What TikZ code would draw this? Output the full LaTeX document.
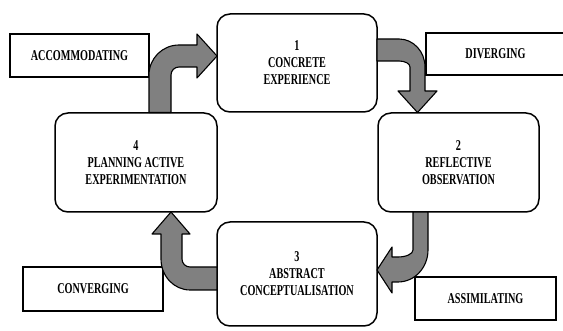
\documentclass[tikz,border=0pt]{standalone}
\usepackage{fontspec}
\setmainfont{Liberation Serif}[FakeStretch=0.68]
\begin{document}
\begin{tikzpicture}[x=1pt,y=-1pt,
  stage/.style={draw=black,line width=1.5pt,rounded corners=13pt,fill=white,
    minimum width=160pt,minimum height=98pt,inner sep=0pt,align=center,
    font=\bfseries\fontsize{15}{17}\selectfont},
  tag/.style={draw=black,line width=1.5pt,fill=white,inner sep=0pt,
    font=\bfseries\fontsize{15}{17}\selectfont},
  blockarrow/.style={draw=black,line width=1.1pt,fill=gray,line join=round}]
\useasboundingbox (0,0) rectangle (563,331);
\begin{scope}
\clip (0,0) rectangle (563,331);
% label boxes
\node[tag,minimum width=139pt,minimum height=43pt] (acc) at (79.5,55.5) {ACCOMMODATING};
\node[tag,minimum width=139pt,minimum height=42pt] (div) at (495.5,54) {DIVERGING};
\node[tag,minimum width=140pt,minimum height=44pt] (con) at (93,289) {CONVERGING};
\node[tag,minimum width=141pt,minimum height=43pt] (ass) at (485.5,298.5) {ASSIMILATING};
% stage boxes
\node[stage] (s1) at (297,63) {1\\CONCRETE\\EXPERIENCE};
\node[stage,minimum width=161pt,minimum height=99pt] (s2) at (458.5,162.5) {2\\REFLECTIVE\\OBSERVATION};
\node[stage,minimum height=104pt] (s3) at (297,274) {3\\ABSTRACT\\CONCEPTUALISATION};
\node[stage,minimum width=162pt,minimum height=99pt] (s4) at (136,162.5) {4\\PLANNING ACTIVE\\EXPERIMENTATION};
% arrow 4 -> 1
\draw[blockarrow] (149,112.5) -- (149,75) arc[start angle=180,end angle=270,radius=30]
  -- (197,45) -- (197,34) -- (217,56) -- (197,78) -- (197,67) -- (179,67)
  arc[start angle=270,end angle=180,radius=8] -- (171,112.5) -- cycle;
% arrow 1 -> 2
\draw[blockarrow] (377,39) -- (399,39) arc[start angle=270,end angle=360,x radius=26,y radius=28]
  -- (425,91) -- (437,91) -- (417.5,112.5) -- (398,91) -- (410,91) -- (410,67)
  arc[start angle=360,end angle=270,x radius=11,y radius=6] -- (377,61) -- cycle;
% arrow 2 -> 3
\draw[blockarrow] (413,212) -- (428,212) -- (428,250)
  arc[start angle=0,end angle=90,x radius=30,y radius=32]
  -- (392,282) -- (392,293) -- (377,270) -- (392,247) -- (392,257) -- (398,257)
  arc[start angle=90,end angle=0,x radius=15,y radius=7] -- cycle;
% arrow 3 -> 4
\draw[blockarrow] (217,267) -- (190,267)
  arc[start angle=90,end angle=180,radius=8]
  -- (182,234) -- (190,234) -- (171,212) -- (152,234) -- (161,234) -- (161,259)
  arc[start angle=180,end angle=90,x radius=29,y radius=31]
  -- (217,290) -- cycle;
\end{scope}
\end{tikzpicture}
\end{document}
